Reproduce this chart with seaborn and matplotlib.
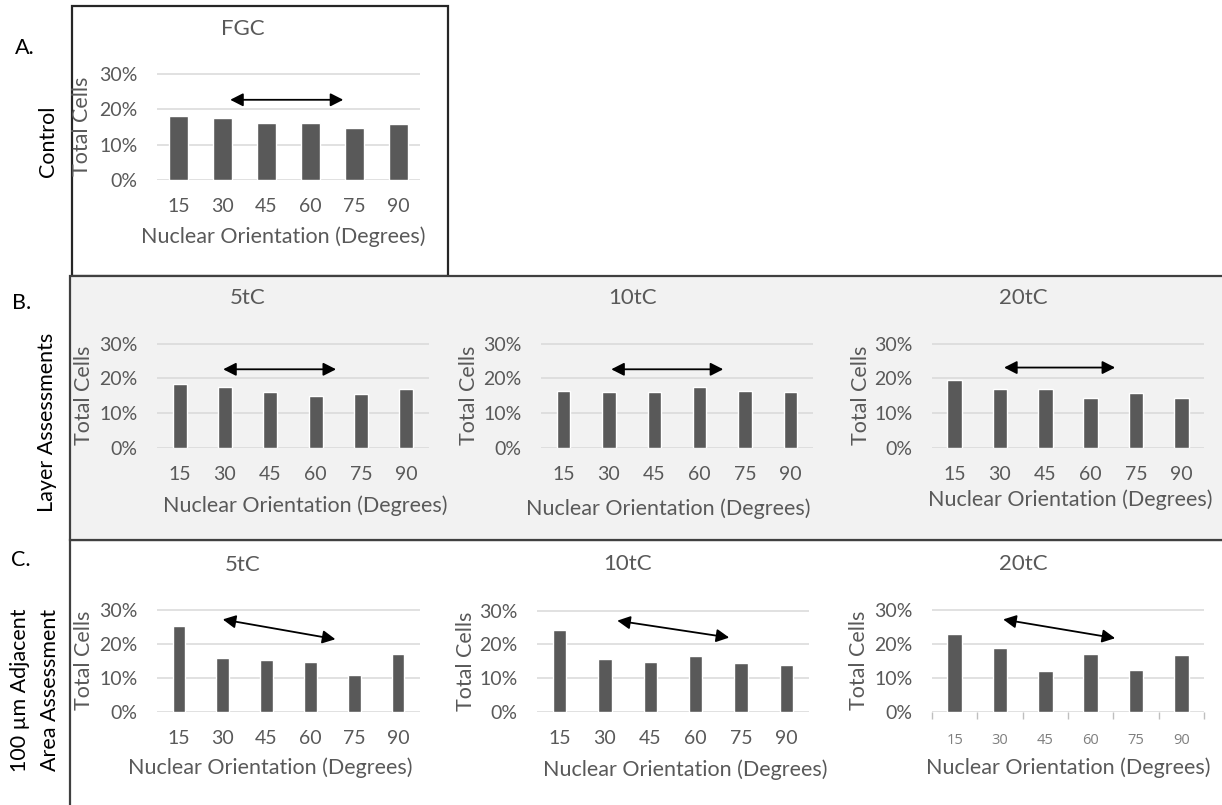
import matplotlib
matplotlib.use("Agg")
import matplotlib.pyplot as plt
from matplotlib.patches import Rectangle
import seaborn as sns

# ---------------- data ----------------
angles = ["15", "30", "45", "60", "75", "90"]
y_ticks = [0, 10, 20, 30]
y_tick_labels = ["0%", "10%", "20%", "30%"]

fgc = [18.0, 17.5, 16.2, 16.2, 14.6, 15.8]
layer_5tc = [18.3, 17.4, 16.0, 15.0, 15.5, 17.0]
layer_10tc = [16.5, 16.0, 16.0, 17.4, 16.5, 16.0]
layer_20tc = [19.5, 16.8, 16.8, 14.5, 15.9, 14.5]
adj_5tc = [25.3, 15.7, 15.2, 14.6, 10.9, 16.9]
adj_10tc = [24.3, 15.7, 14.7, 16.7, 14.4, 13.9]
adj_20tc = [22.7, 18.6, 12.0, 17.1, 12.4, 16.6]

# trend arrows: (x_start, y_start, x_end, y_end) in category / percent units
arrow_fgc = (1.17, 22.6, 3.75, 22.6)
arrow_layer_5tc = (0.96, 22.6, 3.45, 22.6)
arrow_layer_10tc = (1.05, 22.6, 3.52, 22.6)
arrow_layer_20tc = (1.09, 23.1, 3.54, 23.1)
arrow_adj_5tc = (1.00, 27.1, 3.57, 21.3)
arrow_adj_10tc = (1.27, 27.0, 3.74, 22.0)
arrow_adj_20tc = (1.07, 27.1, 3.54, 21.6)

x_label = "Nuclear Orientation (Degrees)"
y_label = "Total Cells"

# ---------------- style ----------------
sns.set_style("white")
plt.rcParams["font.family"] = ["Lato", "DejaVu Sans"]

W, H = 1222, 805
fig = plt.figure(figsize=(W / 100, H / 100), dpi=100)
fig.patch.set_facecolor("white")

GREY_TXT = "#595959"
BAR = "#595959"
GRID = "#d9d9d9"


def fx(x):
    return x / W


def fy(y):
    return 1 - y / H


# background boxes (pixel coords)
def box(l, t, r, b, face, edge):
    fig.patches.append(Rectangle((fx(l), fy(b)), (r - l) / W, (b - t) / H,
                                 transform=fig.transFigure, facecolor=face,
                                 edgecolor=edge, linewidth=1.6, zorder=-5))


box(72, 6, 448, 276, "white", "#262626")
box(70, 540, 1240, 830, "white", "#404040")
box(70, 276, 1240, 540, "#f2f2f2", "#404040")

# panels: (title, values, arrow, axes px (l,r,t,b), title px, xlabel px, ylabel x px, bar width, special ticks)
panels = [
    ("FGC", fgc, arrow_fgc, (157, 420, 73, 180), (243, 37), (283, 237), 82, 0.43, False),
    ("5tC", layer_5tc, arrow_layer_5tc, (157, 429, 343, 448), (248, 306), (305, 506), 84, 0.31, False),
    ("10tC", layer_10tc, arrow_layer_10tc, (541, 813, 343, 448), (633, 306), (668, 509), 469, 0.30, False),
    ("20tC", layer_20tc, arrow_layer_20tc, (932, 1204, 343, 448), (1023, 306), (1070, 500), 861, 0.33, False),
    ("5tC", adj_5tc, arrow_adj_5tc, (157, 420, 609, 712), (243, 573), (270, 768), 84, 0.29, False),
    ("10tC", adj_10tc, arrow_adj_10tc, (537, 809, 610, 712), (628, 572), (685, 770), 466, 0.29, False),
    ("20tC", adj_20tc, arrow_adj_20tc, (932, 1204, 609, 712), (1023, 572), (1068, 768), 859, 0.32, True),
]

for title, vals, arr, (l, r, t, b), (tx, ty), (lx, ly), ylx, bw, special in panels:
    ax = fig.add_axes([fx(l), fy(b), (r - l) / W, (b - t) / H])
    ax.set_facecolor("none")
    sns.barplot(x=angles, y=vals, color=BAR, saturation=1, width=bw,
                errorbar=None, ax=ax, zorder=3)
    ax.set_xlim(-0.5, 5.5)
    ax.set_ylim(0, 30.15)
    ax.set_yticks(y_ticks)
    ax.set_yticklabels(y_tick_labels)
    ax.grid(axis="y", color=GRID, linewidth=1.1)
    ax.grid(axis="x", visible=False)
    ax.set_axisbelow(True)
    sns.despine(ax=ax, left=True, bottom=True)
    ax.tick_params(axis="y", length=0, pad=14, labelsize=14, labelcolor=GREY_TXT)
    if special:
        ax.tick_params(axis="x", length=0, pad=15, labelsize=10.5, labelcolor="#7f7f7f")
        for lab in ax.get_xticklabels():
            lab.set_family(["Open Sans", "DejaVu Sans"])
        ax.set_xticks([i - 0.5 for i in range(7)], minor=True)
        ax.tick_params(axis="x", which="minor", length=5, width=1, color="#bfbfbf",
                       direction="out", bottom=True)
    else:
        ax.tick_params(axis="x", length=0, pad=13, labelsize=14, labelcolor=GREY_TXT)

    w, h = r - l, b - t
    ax.set_xlabel(x_label, fontsize=15.5, color=GREY_TXT, va="center")
    ax.xaxis.set_label_coords((lx - l) / w, (b - ly) / h)
    ax.set_ylabel(y_label, fontsize=15.5, color=GREY_TXT, va="center")
    ax.yaxis.set_label_coords((ylx - l) / w, 0.5)
    ax.set_title(title, fontsize=16, color=GREY_TXT, x=(tx - l) / w,
                 y=(b - ty) / h, va="center")

    x0, y0, x1, y1 = arr
    ax.annotate("", xy=(x1, y1), xytext=(x0, y0),
                arrowprops=dict(arrowstyle="<|-|>,head_length=0.55,head_width=0.28",
                                color="black", lw=1.3, shrinkA=0, shrinkB=0,
                                mutation_scale=14), zorder=5, annotation_clip=False)

# row labels
fig.text(fx(25), fy(48), "A.", fontsize=15.5, color="black", ha="center", va="center")
fig.text(fx(48), fy(141), "Control", fontsize=15.5, color="black", rotation=90,
         ha="center", va="center")
fig.text(fx(22), fy(303), "B.", fontsize=15.5, color="black", ha="center", va="center")
fig.text(fx(47), fy(422), "Layer Assessments", fontsize=15.5, color="black", rotation=90,
         ha="center", va="center")
fig.text(fx(21), fy(560), "C.", fontsize=15.5, color="black", ha="center", va="center")
fig.text(fx(35), fy(690), "100 µm Adjacent\nArea Assessment", fontsize=15.5, color="black",
         rotation=90, ha="center", va="center", multialignment="center", linespacing=1.6)

fig.savefig("out.png", dpi=100)
